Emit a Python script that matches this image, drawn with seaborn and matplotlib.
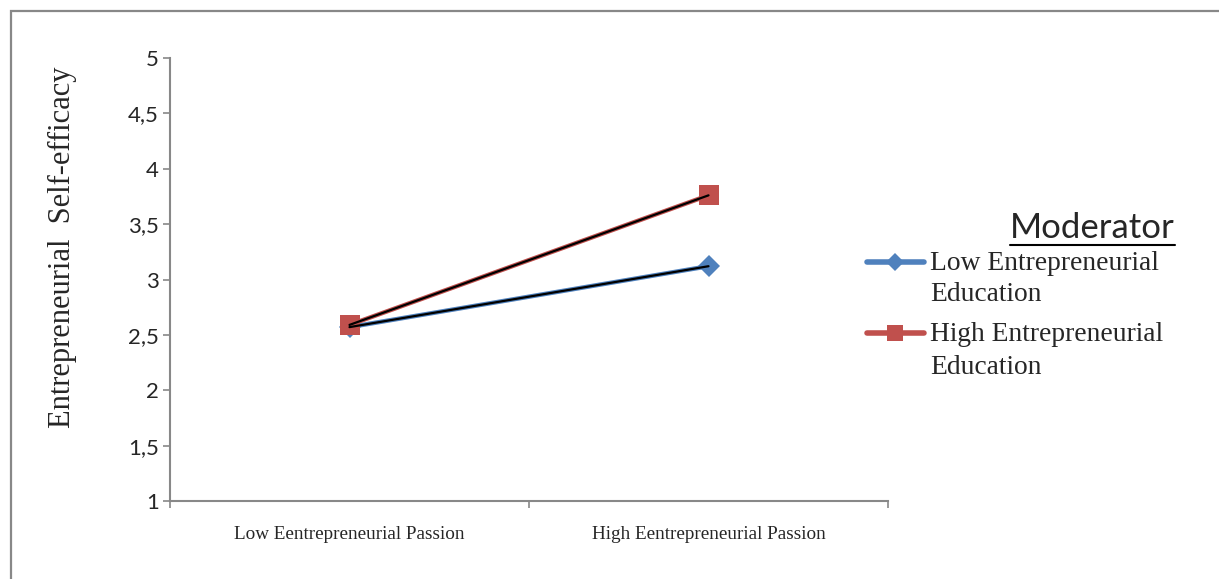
import matplotlib
matplotlib.use("Agg")
import matplotlib.pyplot as plt
import seaborn as sns
import pandas as pd
from matplotlib.patches import Rectangle
from matplotlib.lines import Line2D

# ---- data ----
categories = ["Low Eentrepreneurial Passion", "High Eentrepreneurial Passion"]
series_names = ["Low Entrepreneurial\nEducation", "High Entrepreneurial\nEducation"]
low_edu = [2.57, 3.12]
high_edu = [2.59, 3.76]
y_ticks = [1, 1.5, 2, 2.5, 3, 3.5, 4, 4.5, 5]
y_tick_labels = ["1", "1,5", "2", "2,5", "3", "3,5", "4", "4,5", "5"]
y_label = "Entrepreneurial  Self-efficacy"
legend_title = "Moderator"

df = pd.DataFrame({
    "passion": categories * 2,
    "value": low_edu + high_edu,
    "moderator": [series_names[0]] * 2 + [series_names[1]] * 2,
})

sns.set_style("white")
plt.rcParams["font.family"] = ["Liberation Serif", "DejaVu Sans"]

W, H = 1219, 579
fig = plt.figure(figsize=(W / 100, H / 100), dpi=100)
ax = fig.add_axes([170 / W, 1 - 501 / H, (888 - 170) / W, (501 - 58) / H])

colors = ["#4F81BD", "#C0504D"]
markers = ["D", "s"]
msizes = [11, 14.5]
palette = dict(zip(series_names, colors))
sns.lineplot(data=df, x="passion", y="value", hue="moderator", hue_order=series_names,
             palette=palette, lw=3.2, ax=ax, sort=False, legend=False)
# markers per series
for name, mk, ms, c in zip(series_names, markers, msizes, colors):
    sub = df[df["moderator"] == name]
    sns.lineplot(data=sub, x="passion", y="value", color=c, lw=0, marker=mk,
                 markersize=ms, markeredgewidth=0, ax=ax, legend=False, sort=False)
# thin black trend lines on top
for name in series_names:
    sub = df[df["moderator"] == name]
    sns.lineplot(data=sub, x="passion", y="value", color="black", lw=1.6, ax=ax,
                 legend=False, sort=False)

ax.set_xlim(-0.5, 1.5)
ax.set_ylim(1, 5)
ax.set_yticks(y_ticks)
ax.set_yticklabels(y_tick_labels, fontfamily="Lato", fontsize=16)
ax.set_xticks([-0.5, 0.5, 1.5])
ax.set_xticklabels([])
ax.set_xticks([0, 1], minor=True)
ax.set_xticklabels(categories, minor=True, fontsize=13.8)
ax.tick_params(axis="x", which="minor", length=0, pad=18)
ax.tick_params(axis="x", which="major", length=5, width=1.2, color="#888888", direction="out")
ax.tick_params(axis="y", length=5, width=1.2, color="#888888", direction="out", pad=3)
ax.xaxis.set_ticks_position("bottom")
ax.yaxis.set_ticks_position("left")
ax.set_xlabel("")
ax.set_ylabel(y_label, fontsize=22)
ax.yaxis.set_label_coords(-0.13, 0.573)
for s in ["top", "right"]:
    ax.spines[s].set_visible(False)
for s in ["left", "bottom"]:
    ax.spines[s].set_color("#888888")
    ax.spines[s].set_linewidth(1.5)

# ---- manual legend (Excel style) ----
def fx(px):
    return px / W

def fy(py):
    return 1 - py / H

t = fig.text(fx(1175), fy(238), legend_title, ha="right", va="baseline",
             fontfamily="Lato", fontsize=25)
leg_rows = [(262, 293), (333, 366)]
for name, c, mk, ms, (y1, y2) in zip(series_names, colors, markers, [9, 11], leg_rows):
    fig.lines.append(Line2D([fx(867), fx(924)], [fy(y1), fy(y1)], transform=fig.transFigure,
                            color=c, lw=4, solid_capstyle="round"))
    fig.lines.append(Line2D([fx(895)], [fy(y1)], transform=fig.transFigure, color=c,
                            marker=mk, markersize=ms, markeredgewidth=0, lw=0))
    l1, l2 = name.split("\n")
    fig.text(fx(930), fy(y1 + 8), l1, ha="left", va="baseline", fontsize=19.8)
    fig.text(fx(930), fy(y2 + 8), l2, ha="left", va="baseline", fontsize=19.8)

# outer chart frame
fig.patches.append(Rectangle((11 / W, -0.1), 1.2, 1 - 11 / H + 0.1, transform=fig.transFigure,
                             fill=False, edgecolor="#888888", lw=1.6))

# underline legend title
fig.canvas.draw()
bb = t.get_window_extent()
fig.lines.append(Line2D([bb.x0 / W, bb.x1 / W], [(bb.y0 - 1) / H, (bb.y0 - 1) / H],
                        transform=fig.transFigure, color="black", lw=1.5))

fig.savefig("out.png", dpi=100)
